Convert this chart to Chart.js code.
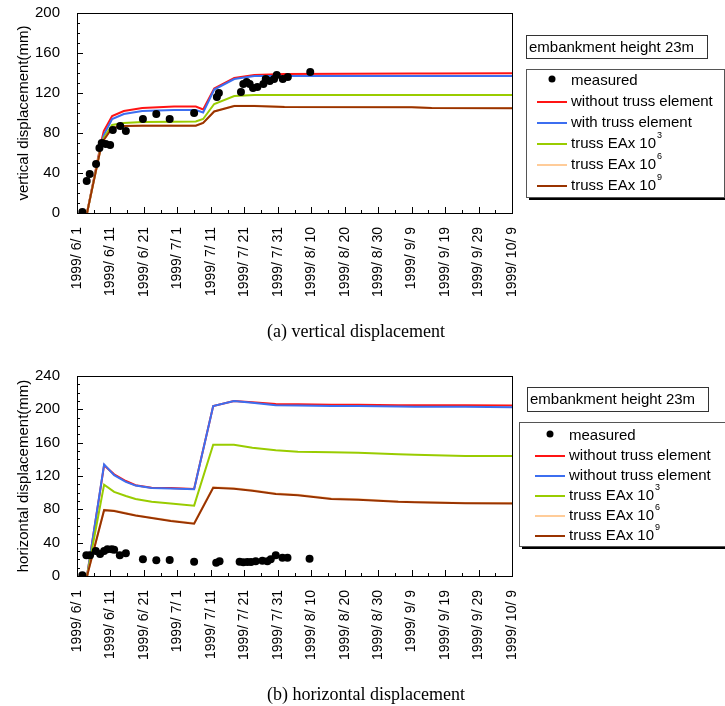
<!DOCTYPE html>
<html>
<head>
<meta charset="utf-8">
<title>Embankment displacement</title>
<script src="https://cdn.jsdelivr.net/npm/chart.js@4.4.1/dist/chart.umd.min.js"></script>
<style>
  html, body { margin: 0; padding: 0; background: #fff; }
  .page { position: relative; width: 725px; height: 706px; overflow: hidden; background: #fff; }
  canvas { position: absolute; left: 0; }
  #vertChart { top: 0; }
  #horizChart { top: 363px; }
  .caption {
    position: absolute; left: 267px; color: #000; white-space: nowrap;
    font: 18px 'Liberation Serif', 'Times New Roman', serif; line-height: 20px;
  }
</style>
</head>
<body>
<div class="page">
  <canvas id="vertChart" width="725" height="340"></canvas>
  <canvas id="horizChart" width="725" height="340"></canvas>
  <div class="caption" style="top:321px">(a) vertical displacement</div>
  <div class="caption" style="top:684px">(b) horizontal displacement</div>
</div>
<script>
const FONT = "'Liberation Sans', Arial, sans-serif";

// x values are days counted from 1999/6/1
const dayTicks = [0, 10, 20, 30, 40, 50, 60, 70, 80, 90, 100, 110, 120, 130];

/**
 * (a) vertical displacement
 */
const vertMeasuredDays = [1.6, 2.9, 3.8, 5.7, 6.7, 7.4, 8.6, 9.9, 10.7, 12.9, 14.6, 19.7, 23.7, 27.7, 35,
  41.8, 42.4, 49, 49.7, 50.7, 51.6, 52.6, 53.9, 55.7, 56.4, 57.6, 58.9, 59.7, 61.5, 63, 69.7];
const vertMeasured = [1, 32, 39, 49, 65, 70, 69, 68, 83, 87, 82, 94, 99, 94, 100,
  116, 120, 121, 129, 131, 129, 125, 126, 129, 134, 132, 134, 138, 134, 136, 141];
const vertModelDays = [3, 7.3, 8, 10.5, 14, 19.5, 29, 35.5, 37.7, 41, 47, 53, 62, 100, 106, 130];
const vertWithout = [0, 72, 82, 97, 102, 105, 106.5, 106.5, 103.5, 124.5, 135, 138, 139, 139.5, 139.5, 139.7];
const vertWith = [0, 70, 78, 94, 99, 102, 103, 103, 100.5, 123.5, 134, 137, 137, 137, 137, 137];
const vertEA3 = [0, 69, 75, 88, 90, 91, 91.3, 91.5, 94, 109, 117, 118, 118, 118, 118, 118];
const vertEA6 = [0, 68, 73, 85, 87, 87.5, 87.5, 87.5, 90.2, 101.7, 107.2, 107.2, 106.2, 105.9, 105.1, 105.1];
const vertEA9 = [0, 68, 73, 85, 87, 87.3, 87.3, 87.3, 90, 101.5, 107, 107, 106, 105.7, 104.9, 104.8];

/**
 * (b) horizontal displacement
 */
const horizMeasuredDays = [1.6, 2.8, 3.9, 5.6, 6.9, 8.1, 9.1, 10.4, 11.1, 12.8, 14.6, 19.7, 23.7, 27.7, 35,
  41.6, 42.6, 48.6, 49.7, 50.9, 52, 53.4, 55.4, 56.9, 57.9, 59.4, 61.4, 62.9, 69.5];
const horizMeasured = [1, 25, 25, 30, 26.4, 30, 32, 32, 31.6, 24.8, 27.2, 20, 18.8, 19.2, 17.2,
  16, 17.6, 17, 16.4, 16.8, 16.8, 17.6, 18.4, 17.6, 20, 24.8, 22, 22, 20.8];
const horizModelDays = [3, 8.1, 11.1, 14.6, 17.5, 22.3, 28, 35, 40.7, 46.9, 52.4, 59.4, 66, 76, 84, 96, 101, 116, 130];
const horizWithout = [0, 133, 122, 114, 109, 106, 105.5, 104.4, 204, 210, 208.5, 206.5, 206, 205.5, 205.5, 205, 205, 205, 204.5];
const horizWith = [0, 134, 121, 113, 108.5, 105.5, 105, 104, 204, 210, 208, 205, 204.5, 204, 204, 203.5, 203, 203, 202.5];
const horizEA3 = [0, 109.6, 101, 96, 92.5, 89, 87, 84.4, 157.6, 157.6, 154, 151, 149, 148.5, 148, 146, 145.5, 144, 144];
const horizEA6 = [0, 79.5, 78.5, 75.5, 73, 70, 66.5, 63.3, 106.5, 105.3, 102.9, 98.9, 97.5, 92.9, 92.1, 89.5, 88.9, 87.7, 87.5];
const horizEA9 = [0, 79, 78, 75, 72.5, 69.5, 66, 62.8, 106, 104.8, 102.4, 98.4, 97, 92.4, 91.6, 89, 88.4, 87.2, 87];

const seriesColors = ['#000000', '#ff1414', '#3c6ef0', '#99cc00', '#ffcc99', '#993300'];

const toPoints = (days, values) => days.map((d, i) => ({ x: d, y: values[i] }));

const dateLabel = (day) => {
  const d = new Date(1999, 5, 1 + day);
  return `${d.getFullYear()}/ ${d.getMonth() + 1}/ ${d.getDate()}`;
};

const buildDatasets = (measuredDays, measured, modelDays, models, labels) => {
  const sets = [{
    label: labels[0],
    data: toPoints(measuredDays, measured),
    showLine: false,
    pointRadius: 4,
    pointBackgroundColor: '#000',
    pointBorderWidth: 0,
    borderColor: '#000',
    order: 0,
  }];
  models.forEach((values, i) => {
    sets.push({
      label: labels[i + 1][0],
      exponent: labels[i + 1][1] || '',
      data: toPoints(modelDays, values),
      borderColor: seriesColors[i + 1],
      borderWidth: 2,
      pointRadius: 0,
      tension: 0,
      order: 5 - i,
    });
  });
  return sets;
};

/**
 * Frame and inward tick marks
 */
const framePlugin = {
  id: 'frame',
  afterDatasetsDraw(chart, args, opts) {
    const { ctx, chartArea: a, scales: { x, y } } = chart;
    ctx.save();
    ctx.strokeStyle = '#000';
    ctx.lineWidth = 1;
    ctx.beginPath();
    for (let d = 0; d <= 130; d += 5) {
      const px = Math.round(x.getPixelForValue(d)) + 0.5;
      const len = d % 10 === 0 ? 6 : 3;
      ctx.moveTo(px, a.bottom);
      ctx.lineTo(px, a.bottom - len);
    }
    for (let v = 0; v <= opts.yMax; v += 10) {
      const py = Math.round(y.getPixelForValue(v)) + 0.5;
      const len = v % 40 === 0 ? 6 : 3;
      ctx.moveTo(a.left, py);
      ctx.lineTo(a.left + len, py);
    }
    ctx.stroke();
    ctx.strokeRect(Math.round(a.left) + 0.5, Math.round(a.top) + 0.5,
      Math.round(a.right - a.left), Math.round(a.bottom - a.top));
    ctx.restore();
  },
};

/**
 * Boxed legend at the right side
 */
const boxLegendPlugin = {
  id: 'boxLegend',
  afterDraw(chart, args, opts) {
    const ctx = chart.ctx;
    ctx.save();
    ctx.font = `15px ${FONT}`;
    ctx.textBaseline = 'middle';
    ctx.lineWidth = 1;

    const t = opts.titleBox;
    ctx.fillStyle = '#fff';
    ctx.fillRect(t.x, t.y, t.w, t.h);
    ctx.strokeStyle = '#333';
    ctx.strokeRect(t.x + 0.5, t.y + 0.5, t.w, t.h);
    ctx.fillStyle = '#000';
    ctx.fillText(opts.title, t.x + 3, t.y + t.h / 2 + 1);

    const b = opts.box;
    ctx.fillStyle = '#000';
    ctx.fillRect(b.x + 3, b.y + 3, b.w, b.h);
    ctx.fillStyle = '#fff';
    ctx.fillRect(b.x, b.y, b.w, b.h);
    ctx.strokeStyle = '#555';
    ctx.strokeRect(b.x + 0.5, b.y + 0.5, b.w, b.h);

    chart.data.datasets.forEach((ds, i) => {
      const rowY = b.y + opts.firstRow + i * opts.rowGap;
      if (ds.showLine === false) {
        ctx.fillStyle = '#000';
        ctx.beginPath();
        ctx.arc(opts.markerX, rowY - 2, 3.5, 0, Math.PI * 2);
        ctx.fill();
      } else {
        ctx.strokeStyle = ds.borderColor;
        ctx.lineWidth = 2;
        ctx.beginPath();
        ctx.moveTo(opts.lineX, rowY);
        ctx.lineTo(opts.lineX + 30, rowY);
        ctx.stroke();
      }
      ctx.fillStyle = '#000';
      ctx.font = `15px ${FONT}`;
      ctx.fillText(ds.label, opts.textX, rowY);
      if (ds.exponent) {
        const w = ctx.measureText(ds.label).width;
        ctx.font = `9px ${FONT}`;
        ctx.fillText(ds.exponent, opts.textX + w + 1, rowY - 8);
      }
    });
    ctx.restore();
  },
};

const makeChart = (canvasId, datasets, yMax, yTitle, legendOpts) => new Chart(document.getElementById(canvasId), {
  type: 'line',
  data: { datasets },
  plugins: [framePlugin, boxLegendPlugin],
  options: {
    responsive: false,
    animation: false,
    events: [],
    layout: { padding: { left: 0, top: 13, right: 213, bottom: 0 } },
    plugins: {
      legend: { display: false },
      tooltip: { enabled: false },
      frame: { yMax },
      boxLegend: legendOpts,
    },
    scales: {
      x: {
        type: 'linear',
        min: 0,
        max: 130,
        afterFit: (s) => {
          s.height = 127;
          s.paddingLeft = 0;
          s.paddingRight = 0;
        },
        afterBuildTicks: (s) => { s.ticks = dayTicks.map((v) => ({ value: v })); },
        ticks: {
          autoSkip: false,
          maxRotation: 90,
          minRotation: 90,
          padding: 14,
          color: '#000',
          font: { family: FONT, size: 14 },
          callback: (v) => dateLabel(v),
        },
        grid: { display: false, drawTicks: false },
        border: { display: false },
      },
      y: {
        min: 0,
        max: yMax,
        afterFit: (s) => {
          s.width = 77;
          // keep the tick padding from pushing the plot area down
          s.paddingTop = 0;
          s.paddingBottom = 0;
        },
        ticks: {
          stepSize: 40,
          padding: 17,
          color: '#000',
          font: { family: FONT, size: 15 },
        },
        title: {
          display: true,
          text: yTitle,
          color: '#000',
          font: { family: FONT, size: 15 },
          padding: { top: 15, bottom: 0 },
        },
        grid: { display: false, drawTicks: false },
        border: { display: false },
      },
    },
  },
});

const vertLabels = [['measured'], ['without truss element'], ['with truss element'],
  ['truss EAx 10', '3'], ['truss EAx 10', '6'], ['truss EAx 10', '9']];
const horizLabels = [['measured'], ['without truss element'], ['without truss element'],
  ['truss EAx 10', '3'], ['truss EAx 10', '6'], ['truss EAx 10', '9']];

makeChart('vertChart',
  buildDatasets(vertMeasuredDays, vertMeasured, vertModelDays,
    [vertWithout, vertWith, vertEA3, vertEA6, vertEA9], vertLabels),
  200, 'vertical displacement(mm)',
  {
    title: 'embankment height 23m',
    titleBox: { x: 526, y: 35, w: 181, h: 23 },
    box: { x: 526, y: 69, w: 198, h: 128 },
    firstRow: 12, rowGap: 21, markerX: 552, lineX: 537, textX: 571,
  });

makeChart('horizChart',
  buildDatasets(horizMeasuredDays, horizMeasured, horizModelDays,
    [horizWithout, horizWith, horizEA3, horizEA6, horizEA9], horizLabels),
  240, 'horizontal displacement(mm)',
  {
    title: 'embankment height 23m',
    titleBox: { x: 527, y: 24, w: 181, h: 24 },
    box: { x: 519, y: 59, w: 207, h: 124 },
    firstRow: 14, rowGap: 20, markerX: 550, lineX: 535, textX: 569,
  });
</script>
</body>
</html>
